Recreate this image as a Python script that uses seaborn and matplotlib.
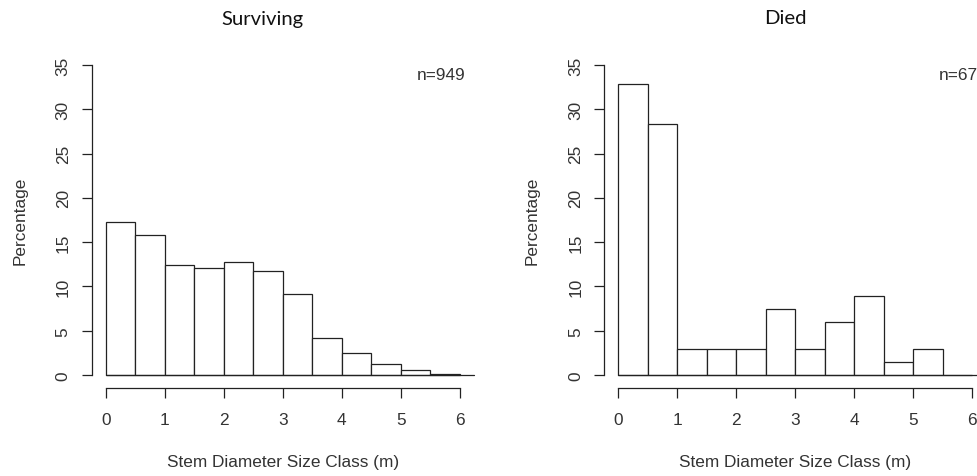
import numpy as np
import matplotlib
matplotlib.use("Agg")
import matplotlib.pyplot as plt
import matplotlib.transforms as mtransforms
import seaborn as sns

# ---- data ----
bin_edges = [0, 0.5, 1, 1.5, 2, 2.5, 3, 3.5, 4, 4.5, 5, 5.5, 6]
surviving_pct = [17.28, 15.81, 12.43, 12.12, 12.75, 11.80, 9.17, 4.21, 2.53, 1.26, 0.53, 0.11]
died_pct = [32.84, 28.36, 2.99, 2.99, 2.99, 7.46, 2.99, 5.97, 8.96, 1.49, 2.99, 0.0]
panel_titles = ["Surviving", "Died"]
panel_counts = ["n=949", "n=67"]
x_ticks = [0, 1, 2, 3, 4, 5, 6]
y_ticks = [0, 5, 10, 15, 20, 25, 30, 35]
x_label = "Stem Diameter Size Class (m)"
y_label = "Percentage"

sns.set_style("white")
plt.rcParams["font.family"] = ["Liberation Sans", "DejaVu Sans"]

INK = "#222222"
TXT = "#333333"
FS = 12.4

W, H = 977, 477
fig = plt.figure(figsize=(W / 100, H / 100), dpi=100)
fig.patch.set_facecolor("white")

ax_left_px = [91.8, 604.3]
ax_w_px = 382.2
ax_top_px, ax_bot_px = 53.6, 388.5
title_x_px = [262.5, 785.0]

centers = [(a + b) / 2 for a, b in zip(bin_edges[:-1], bin_edges[1:])]

for i, (pcts, title, ntxt) in enumerate(zip([surviving_pct, died_pct], panel_titles, panel_counts)):
    ax = fig.add_axes([ax_left_px[i] / W, (H - ax_bot_px) / H,
                       ax_w_px / W, (ax_bot_px - ax_top_px) / H])
    sns.histplot(x=centers, weights=pcts, bins=bin_edges, stat="count",
                 color="white", edgecolor=INK, linewidth=0.9, alpha=1,
                 ax=ax, zorder=2)
    xmin, xmax = -0.24, 6.24
    ymin, ymax = -1.4, 36.4
    ax.set_xlim(xmin, xmax)
    ax.set_ylim(ymin, ymax)
    # baseline from 0 to the right edge of the plot region
    ax.plot([bin_edges[0], xmax], [0, 0], color=INK, lw=0.9, zorder=3, clip_on=False)

    for s in ["top", "right"]:
        ax.spines[s].set_visible(False)
    for s in ["left", "bottom"]:
        ax.spines[s].set_color(INK)
        ax.spines[s].set_linewidth(0.9)
    ax.spines["left"].set_bounds(y_ticks[0], y_ticks[-1])
    ax.spines["bottom"].set_bounds(x_ticks[0], x_ticks[-1])

    ax.set_xticks(x_ticks)
    ax.set_yticks(y_ticks)
    ax.set_xticklabels([str(t) for t in x_ticks])
    ax.set_yticklabels([str(t) for t in y_ticks])
    ax.tick_params(axis="both", which="major", bottom=True, left=True,
                   direction="out", length=7.2, width=0.9,
                   color=INK, labelcolor=TXT, labelsize=FS)
    ax.tick_params(axis="x", pad=10.5)
    ax.tick_params(axis="y", pad=8, labelrotation=90)
    for lab in ax.get_yticklabels():
        lab.set_va("center")

    ax.set_xlabel(x_label, fontsize=FS, color=TXT)
    ax.set_ylabel(y_label, fontsize=FS, color=TXT)
    ax.xaxis.set_label_coords(0.5, (14 - (H - ax_bot_px)) / (ax_bot_px - ax_top_px))
    ax.xaxis.label.set_va("center")
    ax.yaxis.set_label_coords(-72.1 / ax_w_px, 0.5)
    ax.yaxis.label.set_va("center")
    ax.grid(False)

    trans = mtransforms.blended_transform_factory(ax.transAxes, ax.transData)
    ax.text((465.7 - 91.8) / ax_w_px, 33.9, ntxt, transform=trans,
            ha="right", va="center", fontsize=FS, color=TXT, clip_on=False)

    fig.text(title_x_px[i] / W, 1 - 19 / H, title, ha="center", va="center",
             fontsize=14.6, color="#111111", family=["Lato", "DejaVu Sans"])

fig.savefig("out.png", dpi=100, facecolor="white")
